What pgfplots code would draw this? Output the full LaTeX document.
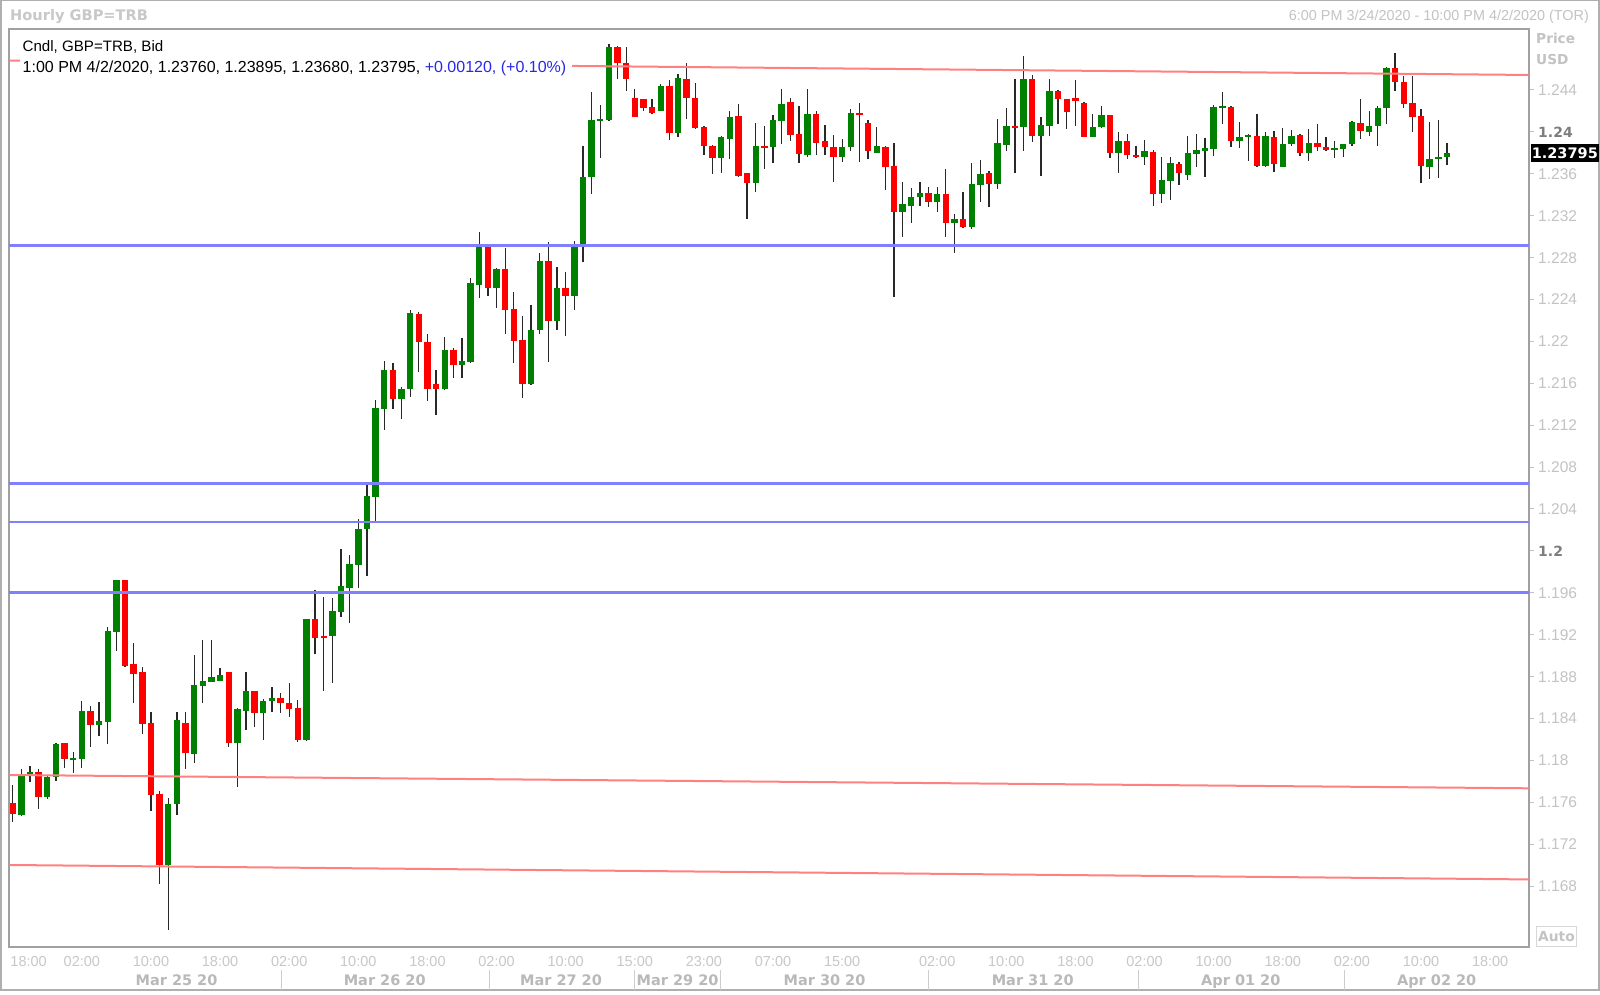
\documentclass[border=0pt]{standalone}
\usepackage{fontspec}
\setmainfont{Liberation Sans}[BoldFont={DejaVu Sans Bold}]
\usepackage{pgfplots}
\usepackage{pgfplotstable}
\pgfplotsset{compat=1.18}
\definecolor{cgreen}{RGB}{0,128,0}
\definecolor{cred}{RGB}{255,0,0}
\definecolor{lred}{RGB}{255,128,128}
\definecolor{lblue}{RGB}{128,128,255}
\definecolor{framec}{RGB}{160,160,160}
\definecolor{outerc}{RGB}{175,175,175}
\definecolor{lbl}{RGB}{195,195,195}
\definecolor{hlbl}{RGB}{200,200,200}
\definecolor{dlbl}{RGB}{185,185,185}
\definecolor{lbldark}{RGB}{125,125,125}
\definecolor{infoblue}{RGB}{40,40,235}
\definecolor{wick}{RGB}{40,40,40}
\definecolor{autobox}{RGB}{215,215,215}
\definecolor{sepc}{RGB}{205,205,205}

\pgfplotstableread{
i o h l c
0 1.17590 1.17765 1.17415 1.17488
1 1.17479 1.17915 1.17470 1.17861
2 1.17877 1.17947 1.17797 1.17889
3 1.17889 1.17915 1.17533 1.17654
4 1.17647 1.17851 1.17635 1.17845
5 1.17838 1.18163 1.17807 1.18153
6 1.18163 1.18168 1.17924 1.18010
7 1.18010 1.18077 1.17877 1.18023
8 1.18017 1.18570 1.17924 1.18472
9 1.18472 1.18519 1.18125 1.18338
10 1.18338 1.18561 1.18236 1.18379
11 1.18370 1.19277 1.18153 1.19235
12 1.19229 1.19725 1.19048 1.19722
13 1.19722 1.19725 1.18895 1.18901
14 1.18917 1.19124 1.18551 1.18828
15 1.18841 1.18895 1.18252 1.18347
16 1.18360 1.18459 1.17520 1.17673
17 1.17679 1.17708 1.16817 1.17002
18 1.17002 1.17644 1.16381 1.17581
19 1.17581 1.18459 1.17479 1.18386
20 1.18354 1.18459 1.17918 1.18067
21 1.18064 1.19006 1.17972 1.18717
22 1.18710 1.19149 1.18551 1.18758
23 1.18748 1.19149 1.18745 1.18796
24 1.18758 1.18879 1.18755 1.18815
25 1.18841 1.18845 1.18125 1.18163
26 1.18163 1.18503 1.17743 1.18487
27 1.18475 1.18841 1.18290 1.18662
28 1.18663 1.18668 1.18316 1.18456
29 1.18456 1.18584 1.18195 1.18571
30 1.18568 1.18698 1.18466 1.18599
31 1.18599 1.18641 1.18456 1.18545
32 1.18552 1.18736 1.18418 1.18494
33 1.18497 1.18577 1.18179 1.18195
34 1.18195 1.19355 1.18190 1.19350
35 1.19350 1.19627 1.19013 1.19172
36 1.19185 1.19564 1.18663 1.19175
37 1.19188 1.19548 1.18736 1.19427
38 1.19417 1.20015 1.19373 1.19665
39 1.19649 1.19958 1.19309 1.19872
40 1.19863 1.20302 1.19643 1.20210
41 1.20210 1.20636 1.19761 1.20528
42 1.20518 1.21441 1.20286 1.21361
43 1.21355 1.21816 1.21155 1.21727
44 1.21727 1.21797 1.21355 1.21447
45 1.21454 1.21562 1.21256 1.21549
46 1.21546 1.22300 1.21473 1.22268
47 1.22262 1.22278 1.21705 1.21991
48 1.21998 1.22071 1.21435 1.21546
49 1.21591 1.21727 1.21298 1.21546
50 1.21543 1.22045 1.21536 1.21918
51 1.21918 1.21934 1.21648 1.21772
52 1.21772 1.22030 1.21648 1.21816
53 1.21807 1.22605 1.21791 1.22557
54 1.22539 1.23048 1.22412 1.22905
55 1.22905 1.22910 1.22434 1.22507
56 1.22507 1.22698 1.22316 1.22688
57 1.22688 1.22889 1.22071 1.22300
58 1.22306 1.22475 1.21791 1.22007
59 1.22014 1.22243 1.21457 1.21591
60 1.21591 1.22342 1.21585 1.22109
61 1.22109 1.22841 1.22068 1.22768
62 1.22768 1.22952 1.21807 1.22198
63 1.22198 1.22714 1.22109 1.22507
64 1.22507 1.22666 1.22055 1.22437
65 1.22437 1.22959 1.22300 1.22905
66 1.22921 1.23869 1.22762 1.23570
67 1.23570 1.24378 1.23408 1.24114
68 1.24107 1.24257 1.23754 1.24120
69 1.24114 1.24839 1.24108 1.24808
70 1.24808 1.24820 1.24502 1.24655
71 1.24655 1.24808 1.24391 1.24505
72 1.24321 1.24407 1.24140 1.24146
73 1.24314 1.24318 1.24200 1.24225
74 1.24241 1.24314 1.24172 1.24178
75 1.24200 1.24454 1.24195 1.24442
76 1.24442 1.24496 1.23917 1.23993
77 1.23993 1.24553 1.23955 1.24512
78 1.24505 1.24655 1.24120 1.24327
79 1.24321 1.24464 1.24025 1.24034
80 1.24050 1.24055 1.23780 1.23866
81 1.23869 1.23872 1.23598 1.23754
82 1.23754 1.23961 1.23611 1.23948
83 1.23932 1.24199 1.23741 1.24145
84 1.24151 1.24263 1.23572 1.23582
85 1.23604 1.23608 1.23165 1.23509
86 1.23509 1.24081 1.23423 1.23868
87 1.23868 1.24059 1.23642 1.23852
88 1.23852 1.24161 1.23706 1.24113
89 1.24107 1.24406 1.23881 1.24272
90 1.24288 1.24320 1.23916 1.23970
91 1.23980 1.24247 1.23706 1.23789
92 1.23779 1.24406 1.23757 1.24171
93 1.24171 1.24199 1.23779 1.23897
94 1.23916 1.24066 1.23779 1.23859
95 1.23859 1.23970 1.23525 1.23763
96 1.23763 1.23938 1.23709 1.23859
97 1.23852 1.24218 1.23817 1.24177
98 1.24183 1.24279 1.23716 1.24167
99 1.24081 1.24113 1.23741 1.23817
100 1.23801 1.24043 1.23795 1.23868
101 1.23859 1.23865 1.23445 1.23668
102 1.23677 1.23891 1.22427 1.23238
103 1.23232 1.23525 1.23000 1.23308
104 1.23295 1.23467 1.23136 1.23381
105 1.23375 1.23525 1.23295 1.23413
106 1.23413 1.23471 1.23280 1.23334
107 1.23334 1.23477 1.23238 1.23404
108 1.23407 1.23645 1.23000 1.23133
109 1.23133 1.23216 1.22847 1.23174
110 1.23168 1.23423 1.23082 1.23088
111 1.23092 1.23706 1.23075 1.23500
112 1.23493 1.23731 1.23334 1.23595
113 1.23604 1.23626 1.23286 1.23499
114 1.23499 1.24123 1.23455 1.23891
115 1.23875 1.24231 1.23817 1.24056
116 1.24056 1.24502 1.23604 1.24043
117 1.24043 1.24724 1.23817 1.24505
118 1.24505 1.24543 1.23906 1.23964
119 1.23964 1.24139 1.23582 1.24066
120 1.24056 1.24502 1.23964 1.24393
121 1.24393 1.24397 1.24072 1.24311
122 1.24311 1.24315 1.24027 1.24193
123 1.24320 1.24495 1.24056 1.24298
124 1.24279 1.24288 1.23948 1.23954
125 1.23954 1.24171 1.23948 1.24050
126 1.24043 1.24250 1.24037 1.24161
127 1.24161 1.24165 1.23747 1.23802
128 1.23802 1.23996 1.23611 1.23913
129 1.23913 1.23977 1.23738 1.23776
130 1.23779 1.23865 1.23747 1.23757
131 1.23757 1.23922 1.23684 1.23821
132 1.23811 1.23827 1.23292 1.23407
133 1.23407 1.23763 1.23324 1.23541
134 1.23534 1.23757 1.23350 1.23706
135 1.23693 1.23716 1.23493 1.23604
136 1.23588 1.23961 1.23541 1.23795
137 1.23789 1.23977 1.23668 1.23827
138 1.23821 1.23938 1.23572 1.23843
139 1.23837 1.24257 1.23773 1.24241
140 1.24231 1.24384 1.24072 1.24241
141 1.24241 1.24245 1.23859 1.23916
142 1.23916 1.24097 1.23852 1.23948
143 1.23948 1.23977 1.23725 1.23970
144 1.23964 1.24171 1.23668 1.23674
145 1.23674 1.23996 1.23668 1.23961
146 1.23948 1.24008 1.23614 1.23693
147 1.23668 1.24043 1.23662 1.23884
148 1.23881 1.24018 1.23865 1.23961
149 1.23970 1.23980 1.23770 1.23802
150 1.23795 1.24024 1.23725 1.23897
151 1.23891 1.24075 1.23817 1.23859
152 1.23859 1.23954 1.23821 1.23827
153 1.23827 1.23913 1.23754 1.23843
154 1.23837 1.23888 1.23763 1.23884
155 1.23881 1.24107 1.23865 1.24097
156 1.24088 1.24311 1.23929 1.24008
157 1.24002 1.24202 1.23961 1.24059
158 1.24056 1.24247 1.23868 1.24231
159 1.24225 1.24618 1.24075 1.24613
160 1.24613 1.24750 1.24393 1.24473
161 1.24479 1.24537 1.24225 1.24272
162 1.24279 1.24537 1.24002 1.24145
163 1.24152 1.24218 1.23509 1.23677
164 1.23668 1.24097 1.23547 1.23741
165 1.23738 1.24113 1.23563 1.23763
166 1.23760 1.23895 1.23680 1.23795
}\candles

\begin{document}
\begin{tikzpicture}[x=1pt,y=1pt,
  tx/.style={text height=#1, text depth=0pt, inner ysep=0pt, inner xsep=0pt}]
\useasboundingbox (0,0) rectangle (1600,994);
\fill[white] (0,0) rectangle (1600,994);
\draw[outerc, line width=1.5pt] (0.75,4) rectangle (1598.75,993.25);
\begin{axis}[
  at={(9pt,47pt)}, anchor=south west,
  scale only axis, width=1520pt, height=918pt,
  xmin=-0.43, xmax=175.5, ymin=1.16218, ymax=1.24982,
  axis line style={draw=framec, line width=1.5pt},
  tick align=outside, major tick length=5pt,
  xtick={1.84,8,16,24,32,40,48,56,64,72,80,88,96,107,115,123,131,139,147,155,163,171},
  xticklabels={18:00,02:00,10:00,18:00,02:00,10:00,18:00,02:00,10:00,15:00,23:00,07:00,15:00,02:00,10:00,18:00,02:00,10:00,18:00,02:00,10:00,18:00},
  xtick style={draw=none},
  xtick pos=bottom,
  xticklabel style={font=\fontsize{14.5}{16}\selectfont, text=hlbl, tx=10.4pt, anchor=center, yshift=-9pt},
  ytick={1.168,1.172,1.176,1.18,1.184,1.188,1.192,1.196,1.2,1.204,1.208,1.212,1.216,1.22,1.224,1.228,1.232,1.236,1.24,1.244},
  yticklabels={1.168,1.172,1.176,1.18,1.184,1.188,1.192,1.196,{\textcolor{lbldark}{\bfseries\fontsize{14}{16}\selectfont 1.2}},1.204,1.208,1.212,1.216,1.22,1.224,1.228,1.232,1.236,{\textcolor{lbldark}{\bfseries\fontsize{14}{16}\selectfont 1.24}},1.244},
  ytick pos=right, yticklabel pos=right,
  ytick style={draw=lbl, line width=1pt},
  yticklabel style={font=\fontsize{15.5}{17}\selectfont, text=lbl, tx=11pt, anchor=west, xshift=4pt},
  clip=true,
]
% wicks
\addplot[draw=none, mark=none, forget plot,
  error bars/.cd, y dir=both, y explicit, error mark=none,
  error bar style={draw=wick, line width=1.3pt}]
  table[x=i, y expr={(\thisrow{h}+\thisrow{l})/2}, y error expr={(\thisrow{h}-\thisrow{l})/2}]{\candles};
% green bodies
\addplot[draw=none, mark=none, forget plot,
  restrict expr to domain={\thisrow{c}-\thisrow{o}}{0:1},
  error bars/.cd, y dir=both, y explicit, error mark=none,
  error bar style={draw=cgreen, line width=6.4pt}]
  table[x=i, y expr={(\thisrow{o}+\thisrow{c})/2}, y error expr={max(abs(\thisrow{c}-\thisrow{o})/2,0.00009)}]{\candles};
% red bodies
\addplot[draw=none, mark=none, forget plot,
  restrict expr to domain={\thisrow{o}-\thisrow{c}}{0.000001:1},
  error bars/.cd, y dir=both, y explicit, error mark=none,
  error bar style={draw=cred, line width=6.4pt}]
  table[x=i, y expr={(\thisrow{o}+\thisrow{c})/2}, y error expr={max(abs(\thisrow{c}-\thisrow{o})/2,0.00009)}]{\candles};
% trend lines
\addplot[lred, line width=2pt, forget plot] coordinates {(-0.43,1.24680) (175.5,1.24543)};
\addplot[lred, line width=2pt, forget plot] coordinates {(-0.43,1.17860) (175.5,1.17733)};
\addplot[lred, line width=2pt, forget plot] coordinates {(-0.43,1.17001) (175.5,1.16863)};
\addplot[lblue, line width=2.5pt, forget plot] coordinates {(-0.43,1.22914) (175.5,1.22914)};
\addplot[lblue, line width=2.5pt, forget plot] coordinates {(-0.43,1.20645) (175.5,1.20645)};
\addplot[lblue, line width=2.5pt, forget plot] coordinates {(-0.43,1.20273) (175.5,1.20273)};
\addplot[lblue, line width=2.5pt, forget plot] coordinates {(-0.43,1.19601) (175.5,1.19601)};
\end{axis}
% header
\node[tx=10.6pt, anchor=west, font=\bfseries\fontsize{14.6}{17}\selectfont, text=hlbl] at (10,978.7) {Hourly GBP=TRB};
\node[tx=10.3pt, anchor=east, font=\fontsize{14.4}{16}\selectfont, text=lbl] at (1589,978.7) {6:00 PM 3/24/2020 - 10:00 PM 4/2/2020 (TOR)};
% info box
\fill[white] (20,918) rectangle (572,958);
\node[tx=10.8pt, anchor=west, font=\fontsize{15.1}{16}\selectfont] at (22.5,948) {Cndl, GBP=TRB, Bid};
\node[tx=10.8pt, anchor=west, font=\fontsize{16}{17}\selectfont] at (22.5,926.7) {1:00 PM 4/2/2020, 1.23760, 1.23895, 1.23680, 1.23795, \textcolor{infoblue}{+0.00120, (+0.10\%)}};
% right side labels
\node[tx=10pt, anchor=west, font=\bfseries\fontsize{13.7}{16}\selectfont, text=lbl] at (1536,955.7) {Price};
\node[tx=10pt, anchor=west, font=\bfseries\fontsize{13.7}{16}\selectfont, text=lbl] at (1536,934) {USD};
\fill[black] (1530.6,831.5) rectangle (1599,849.5);
\node[tx=10.5pt, anchor=center, font=\bfseries\fontsize{14.5}{17}\selectfont, text=white] at (1564.8,840.5) {1.23795};
\draw[autobox, line width=1pt] (1536.5,48) rectangle (1576.5,67.5);
\node[tx=10pt, anchor=center, font=\bfseries\fontsize{13.8}{16}\selectfont, text=lbl] at (1556.5,57.7) {Auto};
% date row
\foreach \xx in {281.6,489.8,634.7,720.4,928.6,1138.8,1344.9} {
  \draw[sepc, line width=1pt] (\xx,4) -- (\xx,24);
}
\foreach \xx/\tt in {176.5/Mar 25 20,384.7/Mar 26 20,561/Mar 27 20,677.6/Mar 29 20,824.5/Mar 30 20,1032.7/Mar 31 20,1240.8/Apr 01 20,1436.7/Apr 02 20} {
  \node[tx=10.6pt, anchor=center, font=\bfseries\fontsize{14.5}{17}\selectfont, text=dlbl] at (\xx,13.4) {\tt};
}
\end{tikzpicture}
\end{document}
